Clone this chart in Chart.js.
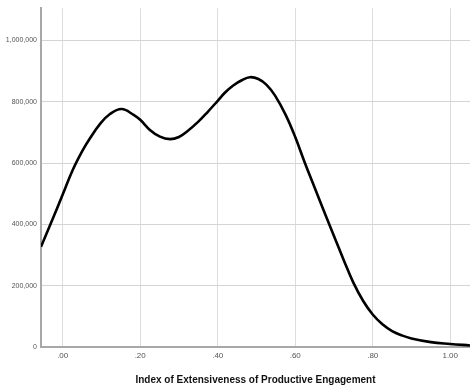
<!DOCTYPE html>
<html>
<head>
<meta charset="utf-8">
<script src="https://cdn.jsdelivr.net/npm/chart.js@4/dist/chart.umd.min.js"></script>
<style>
  html, body { margin: 0; padding: 0; background: #fff; }
  #wrap { width: 470px; height: 391px; position: relative; }
</style>
</head>
<body>
<div id="wrap"><canvas id="myChart"></canvas></div>
<script>
// density curve
const xValues = [-0.056, -0.03, 0, 0.025, 0.05, 0.07, 0.096, 0.122, 0.152, 0.182, 0.2, 0.225, 0.251, 0.277, 0.3, 0.32, 0.35, 0.375, 0.4, 0.419, 0.44, 0.462, 0.483, 0.505, 0.526, 0.548, 0.575, 0.6, 0.625, 0.65, 0.675, 0.7, 0.725, 0.75, 0.775, 0.8, 0.825, 0.85, 0.875, 0.9, 0.95, 1.0, 1.051];
const yValues = [327000, 405000, 497000, 575000, 638000, 680000, 727000, 760000, 776000, 758000, 741000, 708000, 686000, 678000, 685000, 702000, 735000, 768000, 803000, 830000, 853000, 870000, 880000, 874000, 855000, 820000, 758000, 685000, 600000, 520000, 440000, 362000, 284000, 210000, 151000, 106000, 74000, 52000, 38000, 28000, 16000, 10000, 5000];

const xTicks = [0, 0.2, 0.4, 0.6, 0.8, 1.0];
const xTickLabels = [".00", ".20", ".40", ".60", ".80", "1.00"];
const yTicks = [0, 200000, 400000, 600000, 800000, 1000000];
const yTickLabels = ["0", "200,000", "400,000", "600,000", "800,000", "1,000,000"];
const xTitle = "Index of Extensiveness of Productive Engagement";

const points = [];
for (var i = 0; i < xValues.length; i++) {
  points.push({ x: xValues[i], y: yValues[i] });
}

const fontFam = "'Liberation Sans Narrow', 'Liberation Sans', Arial, sans-serif";

new Chart(document.getElementById('myChart'), {
  type: 'line',
  data: {
    datasets: [{
      data: points,
      borderColor: '#000',
      borderWidth: 2.6,
      pointRadius: 0,
      fill: false,
      tension: 0.4
    }]
  },
  options: {
    responsive: true,
    maintainAspectRatio: false,
    animation: false,
    layout: { padding: { top: 7, right: 0, left: 0, bottom: 5 } },
    plugins: { legend: { display: false }, tooltip: { enabled: false } },
    scales: {
      x: {
        type: 'linear',
        min: -0.056,
        max: 1.051,
        afterBuildTicks: (s) => { s.ticks = xTicks.map(v => ({ value: v })); },
        afterFit: (s) => { s.height = 39; },
        ticks: {
          color: '#555',
          font: { family: fontFam, size: 8 },
          padding: 4,
          maxRotation: 0,
          callback: (v) => xTickLabels[xTicks.indexOf(v)]
        },
        grid: { color: '#dcdcdc', lineWidth: 1, drawTicks: false },
        border: { color: '#a8a8a8', width: 2 },
        title: {
          display: true,
          text: xTitle,
          color: '#111',
          font: { family: fontFam, size: 10, weight: 'bold' },
          padding: { top: 4, bottom: 0 }
        }
      },
      y: {
        min: 0,
        max: 1105000,
        afterBuildTicks: (s) => { s.ticks = yTicks.map(v => ({ value: v })); },
        afterFit: (s) => { s.width = 41; },
        ticks: {
          color: '#555',
          font: { family: fontFam, size: 7 },
          padding: 4,
          callback: (v) => yTickLabels[yTicks.indexOf(v)]
        },
        grid: { color: '#d4d4d4', lineWidth: 1, drawTicks: false },
        border: { color: '#a8a8a8', width: 2 }
      }
    }
  }
});
</script>
</body>
</html>
